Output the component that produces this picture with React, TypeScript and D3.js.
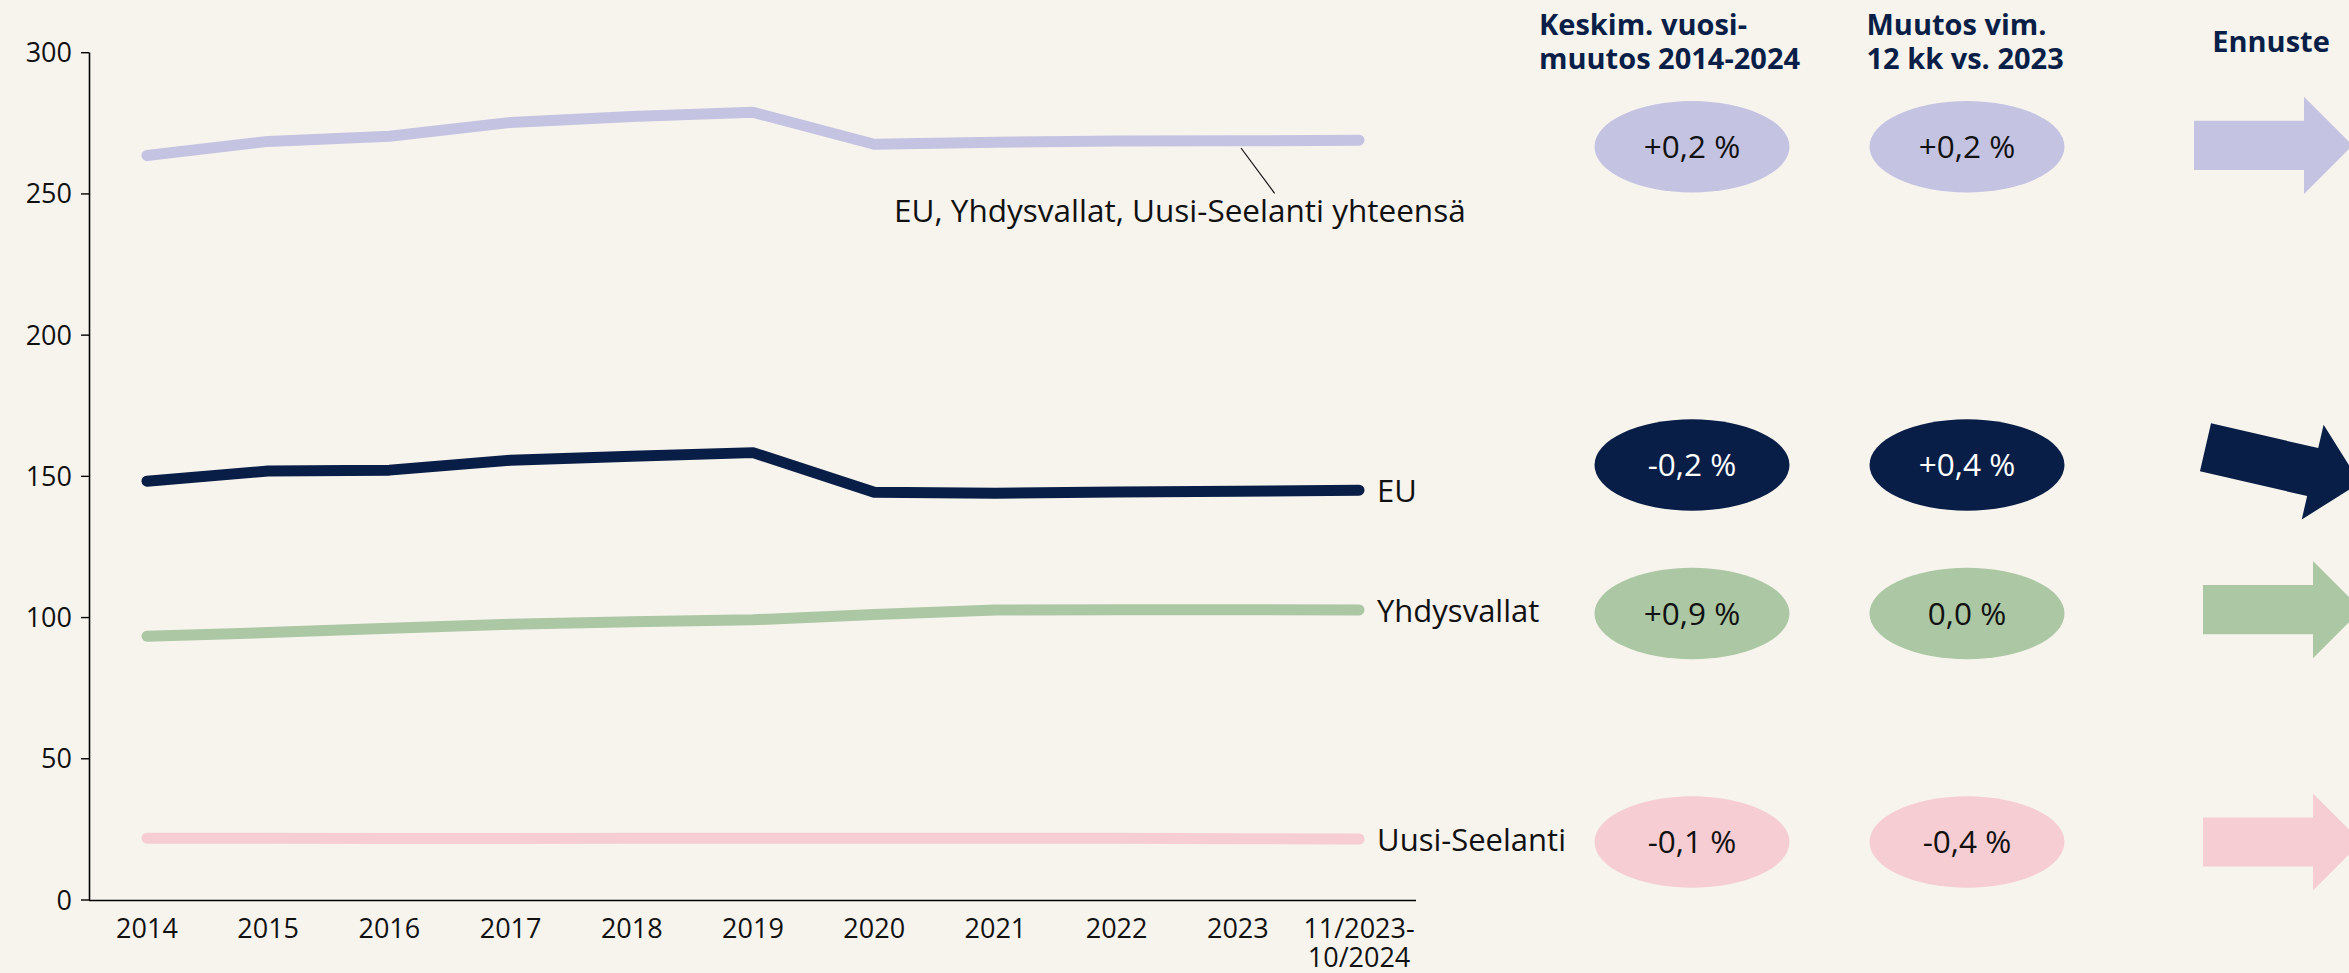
import React, { useEffect } from "react";
import * as d3 from "d3";

const categories = ["2014", "2015", "2016", "2017", "2018", "2019", "2020", "2021", "2022", "2023", "11/2023-\n10/2024"];
const totalValues = [263.6, 268.6, 270.4, 275.3, 277.4, 278.9, 267.6, 268.3, 268.7, 268.8, 269.0];
const euValues = [148.3, 151.9, 152.2, 155.7, 157.1, 158.4, 144.4, 144.0, 144.5, 144.7, 145.1];
const usValues = [93.4, 94.7, 96.2, 97.6, 98.5, 99.2, 101.1, 102.7, 102.8, 102.8, 102.7];
const nzValues = [21.9, 21.9, 21.8, 21.8, 21.9, 21.9, 21.9, 21.9, 21.9, 21.7, 21.6];
const yTicks = [0, 50, 100, 150, 200, 250, 300];

const seriesNames = ["EU, Yhdysvallat, Uusi-Seelanti yhteensä", "EU", "Yhdysvallat", "Uusi-Seelanti"];
const avgChange = ["+0,2 %", "-0,2 %", "+0,9 %", "-0,1 %"];
const lastChange = ["+0,2 %", "+0,4 %", "0,0 %", "-0,4 %"];
const forecastAngle = [0, 13, 0, 0]; // degrees, positive = downward trend
const colHeaders = [["Keskim. vuosi-", "muutos 2014-2024"], ["Muutos vim.", "12 kk vs. 2023"], ["Ennuste"]];

const colors = ["#c4c3e1", "#081e47", "#abc7a3", "#f6cdd3"];
const BG = "#f7f4ee";
const NAVY = "#0a1f48";
const REG = "'Open Sans', 'Lato', sans-serif";
const BOLD = "'Open Sans', 'Lato', sans-serif";

const W = 2349;
const H = 973;

export default function App() {
  useEffect(() => {
    document.body.style.margin = "0";
    document.body.style.background = BG;
  }, []);

  const x = d3.scalePoint<string>().domain(categories).range([90, 1416]).padding(0.47);
  const y = d3.scaleLinear().domain([0, 300]).range([900, 52.7]);
  const line = d3
    .line<number>()
    .x((_, i) => x(categories[i]) as number)
    .y((d) => y(d));

  const allSeries = [totalValues, euValues, usValues, nzValues];
  const rowY = [146.7, 465, 613.5, 842];
  const colX = [1692, 1967];
  const arrowOrigin: [number, number][] = [
    [2194, 145.3],
    [2205.5, 447.3],
    [2203, 609.7],
    [2203, 842],
  ];
  const shaftLen = 110;
  const shaftHalf = 24.6;
  const headHalf = 48.6;
  const headLen = 48.6;
  const arrowPath = `M0,${-shaftHalf}L${shaftLen},${-shaftHalf}L${shaftLen},${-headHalf}L${shaftLen + headLen},0L${shaftLen},${headHalf}L${shaftLen},${shaftHalf}L0,${shaftHalf}Z`;

  const lastIdx = categories.length - 1;
  const lastX = x(categories[lastIdx]) as number;

  return (
    <svg width={W} height={H} style={{ display: "block" }}>
      <rect x={0} y={0} width={W} height={H} fill={BG} />

      {/* axes */}
      <line x1={89.5} x2={89.5} y1={y(300)} y2={y(0)} stroke="#000" strokeWidth={1.6} />
      <line x1={89} x2={1416} y1={y(0) + 0.5} y2={y(0) + 0.5} stroke="#000" strokeWidth={1.6} />
      {yTicks.map((t) => (
        <g key={t}>
          <line x1={81} x2={89.5} y1={y(t)} y2={y(t)} stroke="#000" strokeWidth={1.4} />
          <text x={72} y={y(t) + 9.5} textAnchor="end" fontFamily={REG} fontSize={27} fill="#111">
            {t}
          </text>
        </g>
      ))}
      {categories.map((c) =>
        c.split("\n").map((p, i) => (
          <text
            key={c + i}
            x={x(c) as number}
            y={938 + i * 29}
            textAnchor="middle"
            fontFamily={REG}
            fontSize={27}
            fill="#111"
          >
            {p}
          </text>
        ))
      )}

      {/* lines */}
      {allSeries.map((s, i) => (
        <path
          key={i}
          d={line(s) as string}
          fill="none"
          stroke={colors[i]}
          strokeWidth={11}
          strokeLinecap="round"
          strokeLinejoin="round"
        />
      ))}

      {/* line labels */}
      {[1, 2, 3].map((i) => (
        <text key={i} x={lastX + 18} y={y(allSeries[i][lastIdx]) + 12} fontFamily={REG} fontSize={31} fill="#111">
          {seriesNames[i]}
        </text>
      ))}
      <line x1={1241} y1={148} x2={1274.6} y2={193.3} stroke="#111" strokeWidth={1.2} />
      <text x={894} y={222} fontFamily={REG} fontSize={31.5} fill="#111">
        {seriesNames[0]}
      </text>

      {/* headers */}
      {colHeaders.slice(0, 2).map((h, ci) =>
        h.map((p, i) => (
          <text
            key={ci + "-" + i}
            x={ci === 0 ? 1539 : 1866.5}
            y={35 + i * 33.5}
            fontFamily={BOLD}
            fontWeight={700}
            fontSize={29}
            fill={NAVY}
          >
            {p}
          </text>
        ))
      )}
      <text x={2271} y={51.7} textAnchor="middle" fontFamily={BOLD} fontWeight={700} fontSize={29} fill={NAVY}>
        {colHeaders[2][0]}
      </text>

      {/* ellipses */}
      {rowY.map((ry, r) => (
        <g key={r}>
          {[avgChange[r], lastChange[r]].map((v, ci) => (
            <g key={ci}>
              <ellipse cx={colX[ci]} cy={ry} rx={97.5} ry={45.7} fill={colors[r]} />
              <text
                x={colX[ci]}
                y={ry + 11}
                textAnchor="middle"
                fontFamily={REG}
                fontSize={31.5}
                fill={r === 1 ? "#fff" : "#111"}
              >
                {v}
              </text>
            </g>
          ))}
          <path
            d={arrowPath}
            fill={colors[r]}
            transform={`translate(${arrowOrigin[r][0]},${arrowOrigin[r][1]}) rotate(${forecastAngle[r]})`}
          />
        </g>
      ))}
    </svg>
  );
}
